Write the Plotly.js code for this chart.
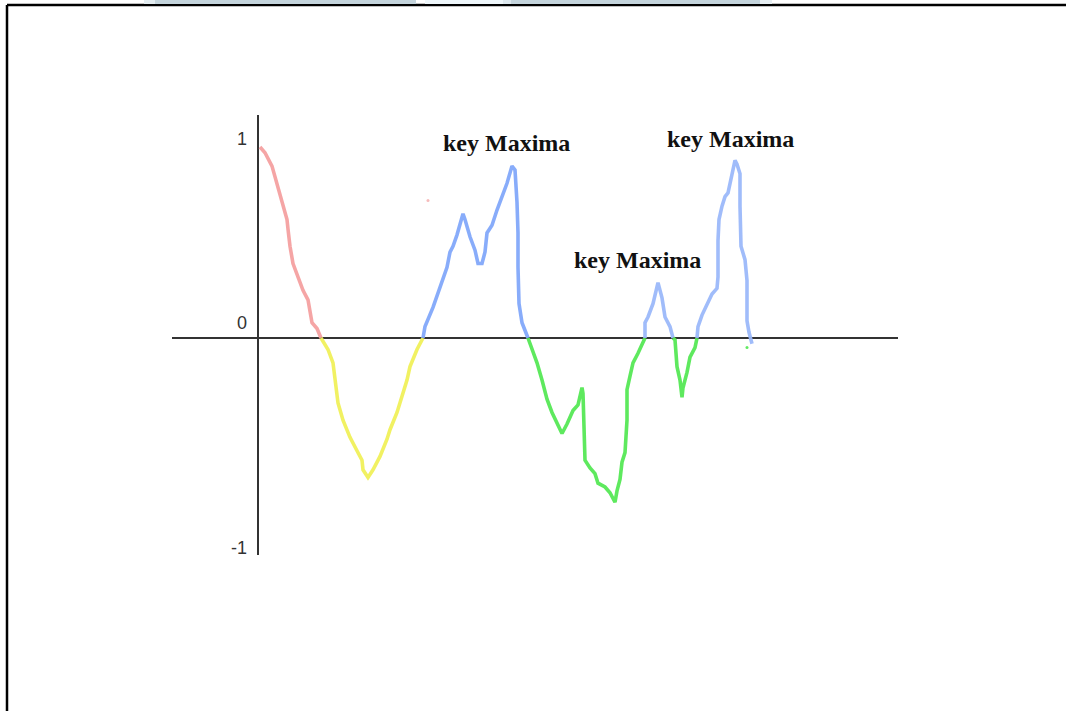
<!DOCTYPE html>
<html>
<head>
<meta charset="utf-8">
<script src="https://cdn.plot.ly/plotly-3.0.1.min.js"></script>
<style>
html,body{margin:0;padding:0;background:#fff;}
#chart{width:1066px;height:711px;}
</style>
</head>
<body>
<div id="chart"></div>
<script>
// Pos values (x) and signal values (y)
var redX = [0.02,0.07,0.14,0.20,0.25,0.29,0.30,0.32,0.35,0.40,0.45,0.50,0.52,0.54,0.59,0.63];
var redY = [1.00,0.97,0.90,0.79,0.71,0.62,0.57,0.48,0.39,0.32,0.25,0.20,0.14,0.08,0.05,0.00];

var yellowX = [0.63,0.70,0.75,0.77,0.80,0.85,0.92,0.99,1.04,1.05,1.10,1.15,1.22,1.29,1.32,1.39,1.44,1.49,1.52,1.59,1.65];
var yellowY = [0.00,-0.06,-0.13,-0.22,-0.34,-0.43,-0.52,-0.59,-0.64,-0.69,-0.73,-0.69,-0.62,-0.53,-0.48,-0.39,-0.31,-0.22,-0.15,-0.06,0.00];

var blue1X = [1.65,1.67,1.75,1.80,1.84,1.85,1.89,1.92,1.95,1.99,2.02,2.05,2.07,2.12,2.17,2.20,2.24,2.27,2.29,2.34,2.39,2.44,2.49,2.54,2.57,2.59,2.60,2.60,2.61,2.64,2.70];
var blue1Y = [0.00,0.06,0.16,0.24,0.29,0.32,0.37,0.45,0.48,0.54,0.60,0.65,0.62,0.53,0.46,0.39,0.39,0.45,0.55,0.59,0.67,0.74,0.81,0.90,0.88,0.71,0.55,0.37,0.18,0.08,0.00];

var green1X = [2.70,2.74,2.79,2.84,2.89,2.94,2.99,3.04,3.09,3.15,3.20,3.22,3.24,3.25,3.26,3.27,3.32,3.37,3.40,3.47,3.52,3.57,3.59,3.62,3.64,3.67,3.69,3.69,3.72,3.75,3.80,3.85,3.87];
var green1Y = [0.00,-0.06,-0.13,-0.22,-0.32,-0.39,-0.45,-0.50,-0.45,-0.38,-0.35,-0.31,-0.26,-0.29,-0.43,-0.64,-0.68,-0.71,-0.76,-0.78,-0.81,-0.86,-0.80,-0.74,-0.65,-0.60,-0.43,-0.27,-0.20,-0.13,-0.08,-0.03,0.00];

var blue2X = [3.87,3.87,3.90,3.95,4.00,4.04,4.07,4.12,4.15];
var blue2Y = [0.00,0.08,0.11,0.18,0.29,0.21,0.11,0.06,0.00];

var green2X = [4.15,4.17,4.19,4.22,4.24,4.25,4.29,4.32,4.37,4.39];
var green2Y = [0.00,-0.01,-0.15,-0.22,-0.31,-0.26,-0.18,-0.10,-0.05,0.00];

var blue3X = [4.39,4.40,4.44,4.49,4.54,4.59,4.60,4.60,4.61,4.64,4.67,4.70,4.74,4.77,4.79,4.82,4.82,4.83,4.87,4.89,4.89,4.91,4.94];
var blue3Y = [0.00,0.06,0.12,0.18,0.23,0.26,0.32,0.51,0.62,0.69,0.74,0.76,0.86,0.93,0.91,0.86,0.69,0.48,0.41,0.30,0.09,0.03,-0.03];

var strayDotX = [1.70, 4.89];
var strayDotY = [0.72, -0.05];

var tickVals = [1, 0, -1];
var tickText = ["1", "0", "-1"];

var maximaLabel = "key Maxima";
var maximaX = [2.48, 3.79, 4.72];
var maximaY = [1.02, 0.41, 1.04];

var axisTitle = "Pos";

var W = 1066, H = 711;
function px(x){return x/W;}
function py(y){return 1 - y/H;}

function seg(x, y, color){
  return {x:x, y:y, type:'scatter', mode:'lines', hoverinfo:'skip',
          line:{color:color, width:3.6, shape:'linear'}, showlegend:false};
}

var traces = [
  seg(redX, redY, 'rgba(244,160,160,0.95)'),
  seg(yellowX, yellowY, 'rgba(240,240,90,0.95)'),
  seg(blue1X, blue1Y, 'rgba(130,168,250,0.95)'),
  seg(green1X, green1Y, 'rgba(85,232,85,0.95)'),
  seg(blue2X, blue2Y, 'rgba(155,184,250,0.95)'),
  seg(green2X, green2Y, 'rgba(85,232,85,0.95)'),
  seg(blue3X, blue3Y, 'rgba(155,184,250,0.95)'),
  {x:[strayDotX[0]], y:[strayDotY[0]], type:'scatter', mode:'markers', hoverinfo:'skip', showlegend:false,
   marker:{color:'rgba(244,170,170,0.8)', size:3}},
  {x:[strayDotX[1]], y:[strayDotY[1]], type:'scatter', mode:'markers', hoverinfo:'skip', showlegend:false,
   marker:{color:'rgba(80,232,80,0.9)', size:3}}
];

var annotations = [];
var tickOffsetY = [0.04, 0.08, -0.10];
for (var i = 0; i < tickVals.length; i++) {
  annotations.push({x:-0.09, y:tickVals[i] + tickOffsetY[i], xref:'x', yref:'y', text:tickText[i],
    showarrow:false, xanchor:'right', yanchor:'middle',
    font:{family:'Liberation Sans, Arial, sans-serif', size:18, color:'#333'}});
}
for (var j = 0; j < maximaX.length; j++) {
  annotations.push({x:maximaX[j], y:maximaY[j], xref:'x', yref:'y', text:'<b>'+maximaLabel+'</b>',
    showarrow:false, xanchor:'center', yanchor:'middle',
    font:{family:'Liberation Serif, Times New Roman, serif', size:24, color:'#111'}});
}
annotations.push({x:6.47, y:-0.105, xref:'x', yref:'y', text:'<b>'+axisTitle+'</b>',
  showarrow:false, xanchor:'center', yanchor:'middle',
  font:{family:'Liberation Serif, Times New Roman, serif', size:23, color:'#111'}});

var shapes = [
  // screenshot frame
  {type:'line', xref:'paper', yref:'paper', x0:px(7), x1:1, y0:py(5), y1:py(5), line:{color:'#000', width:2.5}},
  {type:'line', xref:'paper', yref:'paper', x0:px(7), x1:px(7), y0:py(5), y1:0, line:{color:'#000', width:2.5}},
  // top strip remnants
  {type:'rect', xref:'paper', yref:'paper', x0:px(144), x1:px(155), y0:py(4), y1:1, line:{width:0}, fillcolor:'#e3ecf0'},
  {type:'rect', xref:'paper', yref:'paper', x0:px(155), x1:px(416), y0:py(4), y1:1, line:{width:0}, fillcolor:'#c4d4dc'},
  {type:'rect', xref:'paper', yref:'paper', x0:px(425), x1:px(503), y0:py(4), y1:1, line:{width:0}, fillcolor:'#eef6fa'},
  {type:'rect', xref:'paper', yref:'paper', x0:px(503), x1:px(511), y0:py(4), y1:1, line:{width:0}, fillcolor:'#dde8ee'},
  {type:'rect', xref:'paper', yref:'paper', x0:px(511), x1:px(760), y0:py(4), y1:1, line:{width:0}, fillcolor:'#c4d4dc'},
  {type:'rect', xref:'paper', yref:'paper', x0:px(760), x1:px(772), y0:py(4), y1:1, line:{width:0}, fillcolor:'#e6eef2'}
];

var layout = {
  width:W, height:H,
  margin:{l:0, r:0, t:0, b:0},
  paper_bgcolor:'#fff', plot_bgcolor:'rgba(0,0,0,0)',
  showlegend:false,
  xaxis:{domain:[px(172), px(898)], range:[-0.86, 6.40], showgrid:false, showticklabels:false, ticks:'',
         zeroline:true, zerolinecolor:'#333', zerolinewidth:2, showline:false, fixedrange:true},
  yaxis:{domain:[py(555), py(115)], range:[-1.136, 1.1675], showgrid:false, showticklabels:false, ticks:'',
         zeroline:true, zerolinecolor:'#333', zerolinewidth:2, showline:false, fixedrange:true},
  annotations:annotations,
  shapes:shapes
};

Plotly.newPlot('chart', traces, layout, {staticPlot:true, displayModeBar:false});
</script>
</body>
</html>
